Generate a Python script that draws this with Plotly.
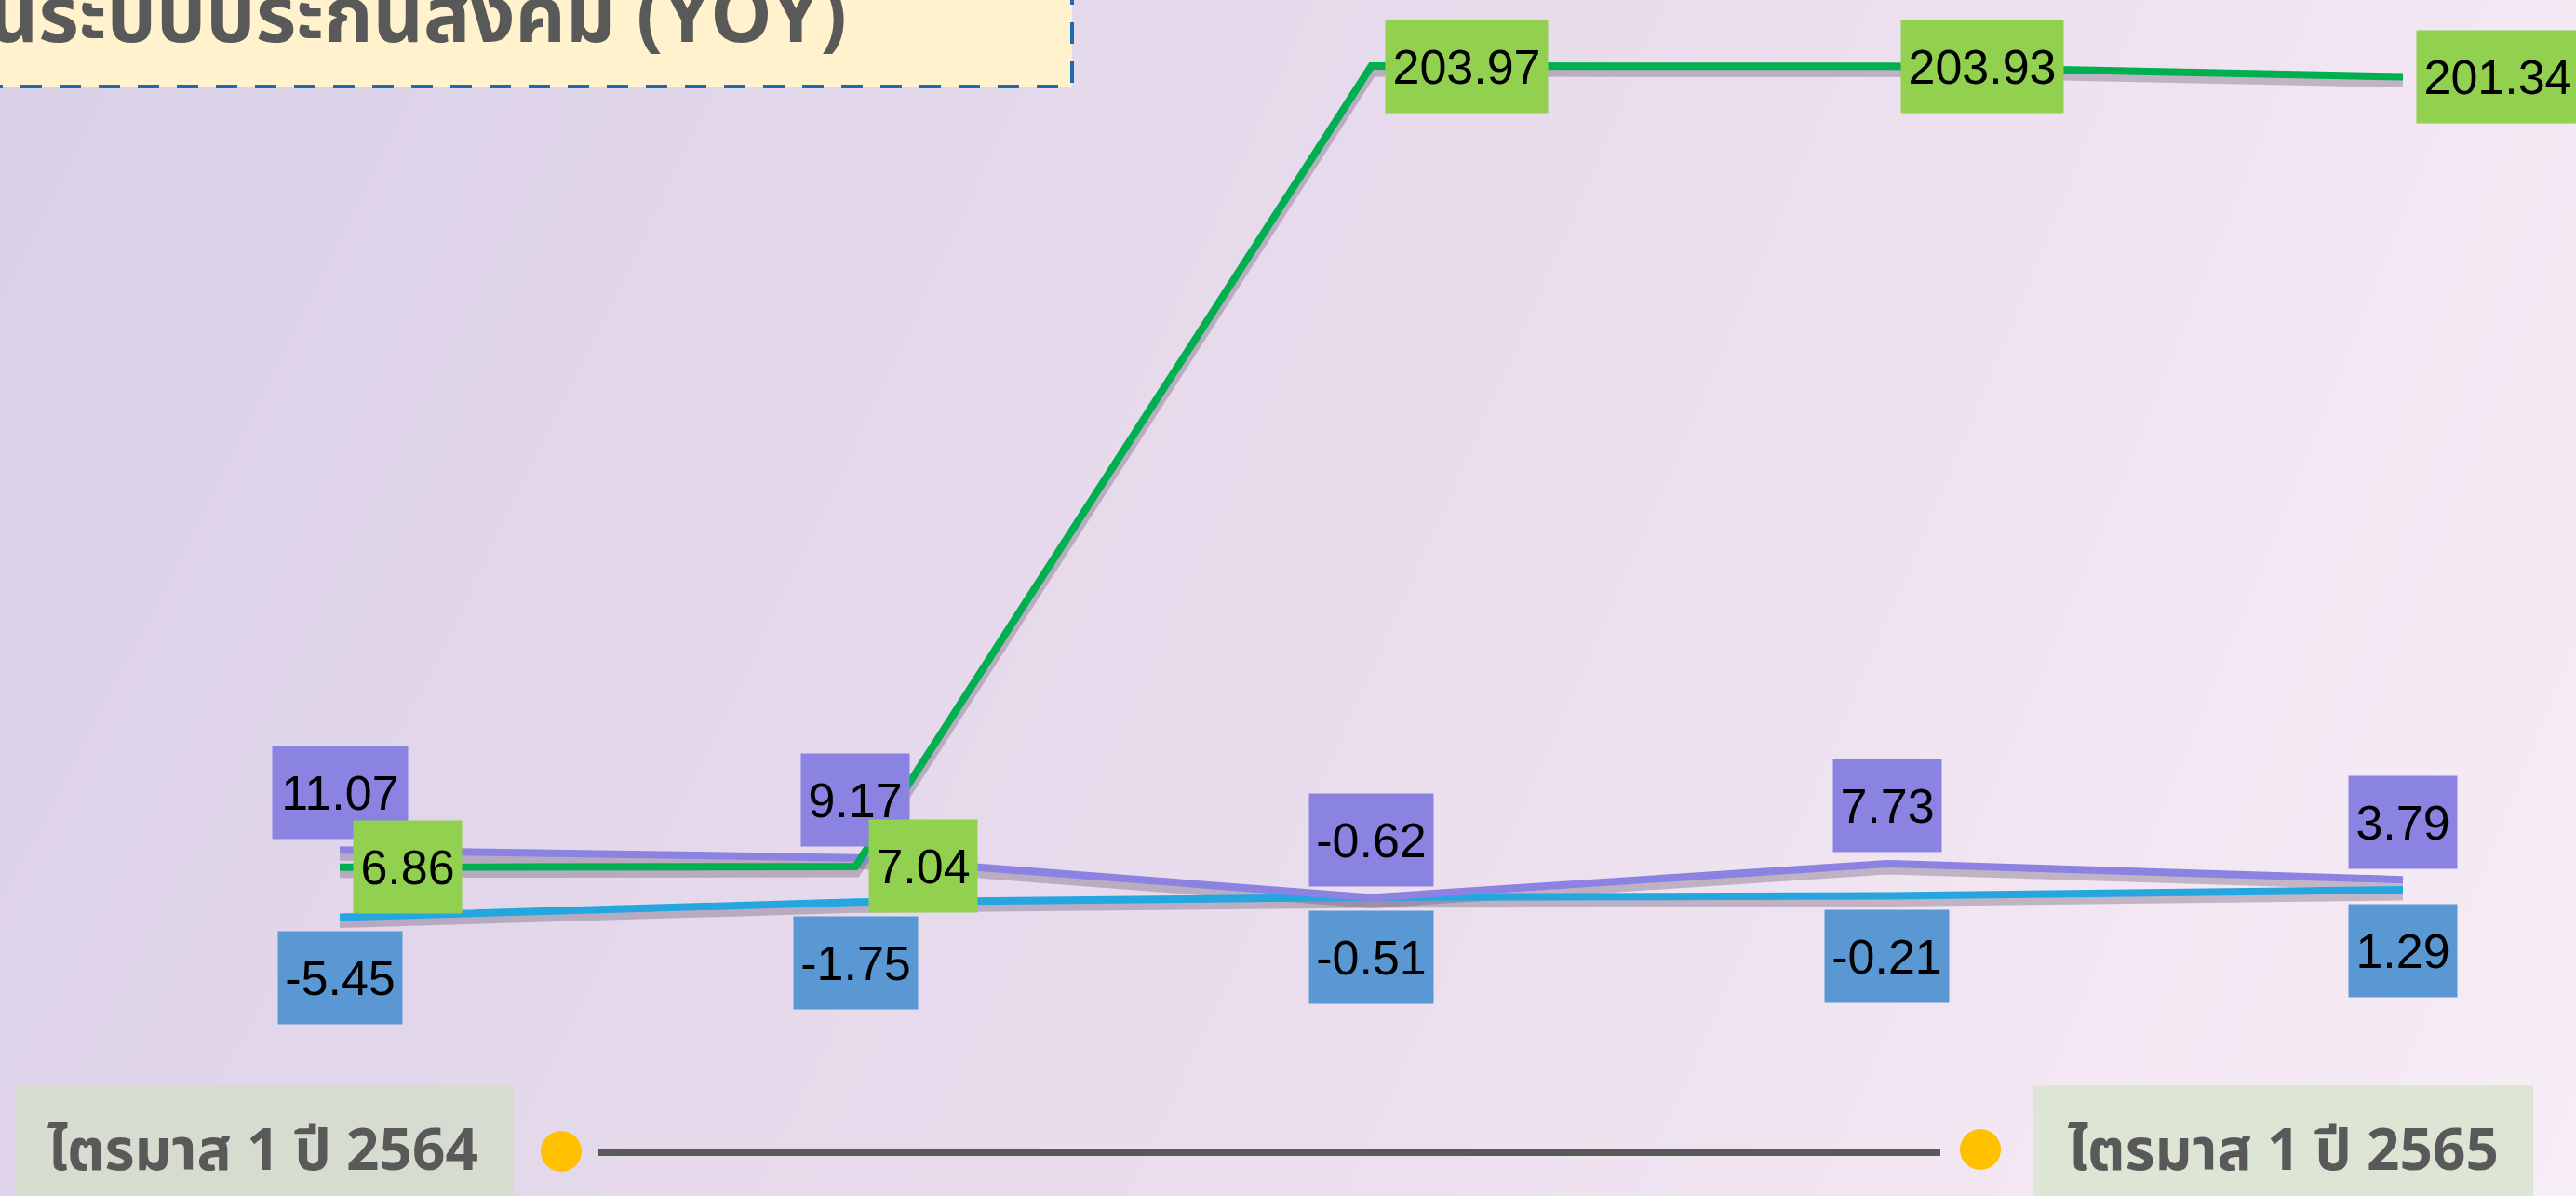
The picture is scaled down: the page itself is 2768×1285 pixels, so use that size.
import plotly.graph_objects as go

# ---------------- data ----------------
categories = ["ไตรมาส 1/2564", "ไตรมาส 2/2564", "ไตรมาส 3/2564", "ไตรมาส 4/2564", "ไตรมาส 1/2565"]
series_names = ["มาตรา 33", "มาตรา 39", "มาตรา 40"]
sec33 = [-5.45, -1.75, -0.51, -0.21, 1.29]      # blue
sec39 = [11.07, 9.17, -0.62, 7.73, 3.79]        # purple
sec40 = [6.86, 7.04, 203.97, 203.93, 201.34]    # green
title_text = "นระบบประกันสังคม (YOY)"
start_label = "ไตรมาส 1 ปี 2564"
end_label = "ไตรมาส 1 ปี 2565"

# ---------------- geometry / style ----------------
W, H = 2768, 1285
X_RANGE = [-0.6586, 4.3356]
Y_RANGE = [-74.04, 220.24]
PX_PER_UNIT = H / (Y_RANGE[1] - Y_RANGE[0])
SHADOW_PX = 5
s = SHADOW_PX / PX_PER_UNIT

BLUE = "#26A6DF"
PURPLE = "#8C82E2"
GREEN = "#00B050"
BLUE_BOX = "#5A98D4"
PURPLE_BOX = "#8B83E1"
GREEN_BOX = "#92D050"
GREY = "#595959"
THAI_FONT = "Noto Sans Thai, Tahoma, Leelawadee UI, Noto Sans, Liberation Sans, sans-serif"
LABEL_FONT = "Liberation Sans, Arial, sans-serif"

fig = go.Figure()

# background gradient
fig.add_trace(go.Heatmap(
    x=[0, 1], y=[0, 1], z=[[0.2, 1.0], [0.0, 0.85]],
    colorscale=[[0, "#D9D0E7"], [0.5, "#E8DBEC"], [1, "#F7EDF5"]],
    zsmooth="best", showscale=False, hoverinfo="skip",
    xaxis="x", yaxis="y"))

series = [(sec33, BLUE, series_names[0]), (sec39, PURPLE, series_names[1]), (sec40, GREEN, series_names[2])]

# shadows
for vals, col, name in series:
    fig.add_trace(go.Scatter(x=categories, y=vals, mode="lines",
                             line=dict(color="rgba(95,80,105,0.33)", width=13),
                             xaxis="x2", yaxis="y2", hoverinfo="skip", showlegend=False))
# lines
for vals, col, name in series:
    fig.add_trace(go.Scatter(x=categories, y=vals, mode="lines", name=name,
                             line=dict(color=col, width=8),
                             xaxis="x2", yaxis="y3", showlegend=False))


def box_width(t):
    return sum(29 if c.isdigit() else 15 if c == "." else 17 for c in t) + 14


annotations = []

def add_labels(vals, bg, **kw):
    for c, v in zip(categories, vals):
        t = f"{v:.2f}"
        annotations.append(dict(
            x=c, y=v, xref="x2", yref="y3", text=t, showarrow=False,
            font=dict(family=LABEL_FONT, size=52, color="black"),
            bgcolor=bg, width=box_width(t), height=99, borderpad=0,
            **kw))

add_labels(sec39, PURPLE_BOX, xanchor="center", yanchor="middle", yshift=62)
add_labels(sec40, GREEN_BOX, xanchor="left", yanchor="middle", xshift=14)
add_labels(sec33, BLUE_BOX, xanchor="center", yanchor="middle", yshift=-65)


def px(x):
    return x / W


def py(y):
    return 1 - y / H


shapes = []
# title box
shapes.append(dict(type="rect", xref="paper", yref="paper",
                   x0=px(-20), x1=px(1152), y0=py(93), y1=py(-20),
                   fillcolor="#FFF2CC", line=dict(color="#1F6BB0", width=4, dash="23px,19px"),
                   layer="above"))
# bottom timeline boxes
shapes.append(dict(type="rect", xref="paper", yref="paper",
                   x0=px(16), x1=px(552), y0=py(H + 10), y1=py(1166),
                   fillcolor="#D6DDD0", line=dict(width=0), layer="above"))
shapes.append(dict(type="rect", xref="paper", yref="paper",
                   x0=px(2185), x1=px(2722), y0=py(H + 10), y1=py(1166),
                   fillcolor="#DDE5D5", line=dict(width=0), layer="above"))
shapes.append(dict(type="line", xref="paper", yref="paper",
                   x0=px(643), x1=px(2085), y0=py(1238), y1=py(1238),
                   line=dict(color=GREY, width=8), layer="above"))
for cx, cy in [(603, 1237), (2128, 1235)]:
    shapes.append(dict(type="circle", xref="paper", yref="paper",
                       x0=px(cx - 22), x1=px(cx + 22), y0=py(cy + 22), y1=py(cy - 22),
                       fillcolor="#FFC000", line=dict(width=0), layer="above"))

annotations.append(dict(xref="paper", yref="paper", x=px(912), y=py(20),
                        xanchor="right", yanchor="middle", showarrow=False,
                        text=f"<b>{title_text}</b>",
                        font=dict(family=THAI_FONT, size=84, color=GREY)))
annotations.append(dict(xref="paper", yref="paper", x=px(282), y=py(1238),
                        xanchor="center", yanchor="middle", showarrow=False,
                        height=70, borderpad=0,
                        text=f"<b>{start_label}</b>",
                        font=dict(family=THAI_FONT, size=62, color=GREY)))
annotations.append(dict(xref="paper", yref="paper", x=px(2453), y=py(1238),
                        xanchor="center", yanchor="middle", showarrow=False,
                        height=70, borderpad=0,
                        text=f"<b>{end_label}</b>",
                        font=dict(family=THAI_FONT, size=62, color=GREY)))

hidden = dict(visible=False, showgrid=False, zeroline=False, fixedrange=True)
fig.update_layout(
    width=W, height=H,
    margin=dict(l=0, r=0, t=0, b=0, pad=0),
    paper_bgcolor="#E8DCEC", plot_bgcolor="rgba(0,0,0,0)",
    showlegend=False,
    xaxis=dict(domain=[0, 1], range=[0, 1], **hidden),
    yaxis=dict(domain=[0, 1], range=[0, 1], **hidden),
    xaxis2=dict(overlaying="x", range=X_RANGE, type="category", **hidden),
    yaxis2=dict(overlaying="y", range=[Y_RANGE[0] + s, Y_RANGE[1] + s], **hidden),
    yaxis3=dict(overlaying="y", range=Y_RANGE, **hidden),
    shapes=shapes,
    annotations=annotations,
)

fig.write_html("out.html", config={"displayModeBar": False},
               post_script="document.body.style.margin='0';document.body.style.overflow='hidden';")
